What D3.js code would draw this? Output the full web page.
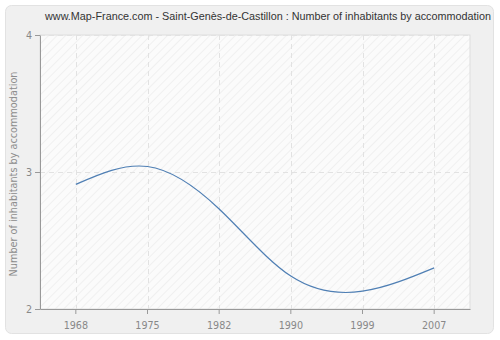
<!DOCTYPE html>
<meta charset="utf-8">
<html>
<head>
<script src="https://d3js.org/d3.v7.min.js"></script>
<style>
  body { margin: 0; background: #fff; }
  text { font-family: "DejaVu Sans", Verdana, sans-serif; }
</style>
</head>
<body>
<div id="chart"></div>
<script>
// data
const years = ["1968", "1975", "1982", "1990", "1999", "2007"];
const values = [2.91, 3.04, 2.73, 2.24, 2.13, 2.30];
const yTicks = [2, 3, 4];
const title = "www.Map-France.com - Saint-Genès-de-Castillon : Number of inhabitants by accommodation";
const yLabel = "Number of inhabitants by accommodation";

const W = 500, H = 340;
const margin = {top: 35, right: 30, bottom: 31, left: 40};
const width = W - margin.left - margin.right,
      height = H - margin.top - margin.bottom;

const svg = d3.select("#chart").append("svg")
    .attr("width", W).attr("height", H);

// hatch pattern for plot background
const defs = svg.append("defs");
const pat = defs.append("pattern")
    .attr("id", "hatch")
    .attr("patternUnits", "userSpaceOnUse")
    .attr("width", 6).attr("height", 6)
    .attr("patternTransform", "rotate(45)");
pat.append("rect").attr("width", 6).attr("height", 6).attr("fill", "#fbfbfb");
pat.append("line").attr("x1", 0).attr("y1", 0).attr("x2", 0).attr("y2", 6)
    .attr("stroke", "#eaeaea").attr("stroke-width", 1.2);

// outer panel
svg.append("rect")
    .attr("x", 5.5).attr("y", 5.5)
    .attr("width", W - 12).attr("height", H - 12)
    .attr("rx", 6).attr("ry", 6)
    .attr("fill", "#f0f0f0")
    .attr("stroke", "#e2e2e2");

svg.append("text")
    .attr("x", 268).attr("y", 20)
    .attr("text-anchor", "middle")
    .style("font-family", "'Liberation Sans', Arial, sans-serif")
    .style("font-size", "10.8px")
    .attr("fill", "#333")
    .text(title);

const g = svg.append("g")
    .attr("transform", `translate(${margin.left},${margin.top})`);

g.append("rect")
    .attr("width", width).attr("height", height)
    .attr("fill", "url(#hatch)")
    .attr("stroke", "#dddddd");

const x = d3.scaleBand().domain(years).range([0, width]);
const y = d3.scaleLinear().domain([2, 4]).range([height, 0]);
const cx = d => x(d) + x.bandwidth() / 2;

// grid
g.selectAll(".vgrid").data(years).join("line")
    .attr("x1", d => Math.round(cx(d)) + 0.5).attr("x2", d => Math.round(cx(d)) + 0.5)
    .attr("y1", 0).attr("y2", height)
    .attr("stroke", "#e2e2e2").attr("stroke-dasharray", "5,4");
g.selectAll(".hgrid").data(yTicks.slice(1)).join("line")
    .attr("x1", 0).attr("x2", width)
    .attr("y1", d => Math.round(y(d)) + 0.5).attr("y2", d => Math.round(y(d)) + 0.5)
    .attr("stroke", "#e2e2e2").attr("stroke-dasharray", "5,4");

// line
g.append("path")
    .datum(values)
    .attr("fill", "none")
    .attr("stroke", "#4f7fb4")
    .attr("stroke-width", 1.2)
    .attr("d", d3.line()
        .x((d, i) => cx(years[i]))
        .y(d => y(d))
        .curve(d3.curveNatural));

// axes
const xAxis = g.append("g")
    .attr("transform", `translate(0,${height})`)
    .call(d3.axisBottom(x).tickSize(5).tickSizeOuter(0));
const yAxis = g.append("g")
    .call(d3.axisLeft(y).tickValues(yTicks).tickFormat(d3.format("d")).tickSize(5).tickSizeOuter(0));
[xAxis, yAxis].forEach(a => {
  a.select(".domain").attr("stroke", "#999");
  a.selectAll(".tick line").attr("stroke", "#999");
  a.selectAll(".tick text").attr("fill", "#888")
    .style("font-size", "9.6px")
    .style("font-family", "'DejaVu Sans', Verdana, sans-serif");
});
xAxis.selectAll(".tick text").attr("dy", "1.25em");
yAxis.selectAll(".tick text").attr("x", -8);

svg.append("text")
    .attr("transform", `translate(17,174) rotate(-90)`)
    .attr("text-anchor", "middle")
    .style("font-size", "9.7px")
    .attr("fill", "#8c8c8c")
    .text(yLabel);
</script>
</body>
</html>
